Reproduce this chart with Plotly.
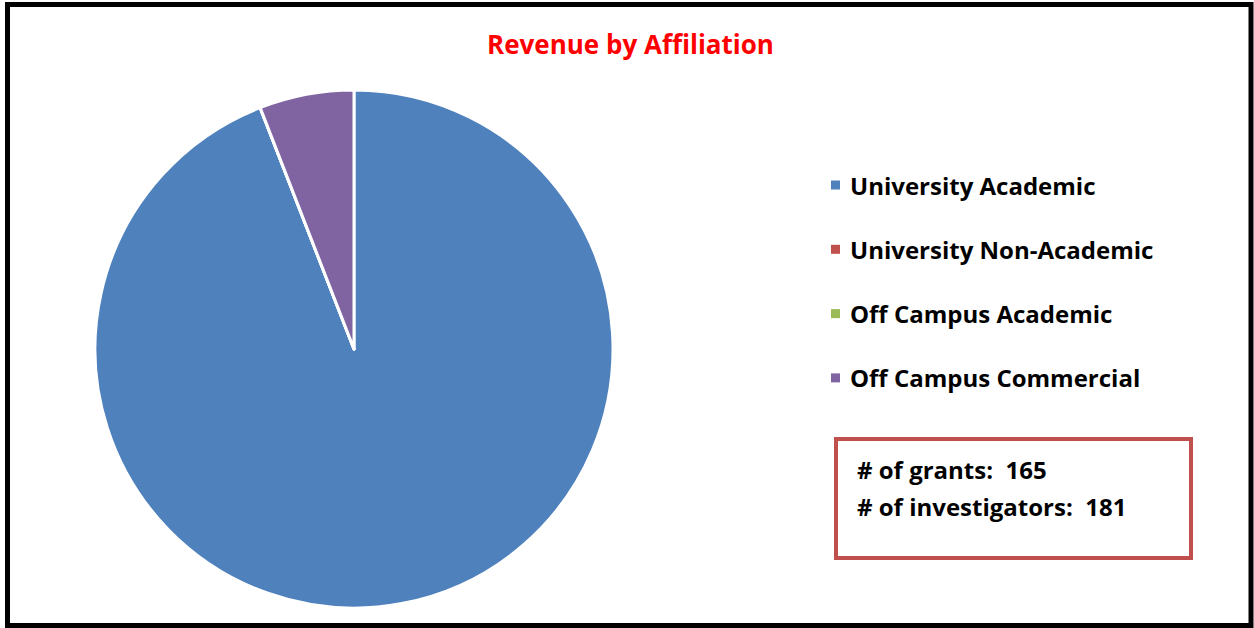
import plotly.graph_objects as go

# Revenue share by affiliation (percent of total)
labels = ["University Academic", "University Non-Academic", "Off Campus Academic", "Off Campus Commercial"]
values = [94.1, 0.0, 0.0, 5.9]
colors = ["#4F81BD", "#C0504D", "#9BBB59", "#8064A2"]

title_text = "Revenue by Affiliation"
stats_lines = ["# of grants:\u00a0\u00a0165", "# of investigators:\u00a0\u00a0181"]

W, H = 1254, 628
FONT = "Open Sans"


def px(x):
    return x / W


def py(y):
    return 1 - y / H


fig = go.Figure()
fig.add_trace(go.Pie(
    labels=labels,
    values=values,
    marker=dict(colors=colors, line=dict(color="white", width=3)),
    sort=False,
    direction="clockwise",
    rotation=0,
    textinfo="none",
    showlegend=False,
    domain=dict(x=[px(95), px(613)], y=[py(608), py(90)]),
))

shapes = []
annotations = []

# outer frame
shapes.append(dict(type="rect", xref="paper", yref="paper",
                   x0=px(7.5), x1=px(1251), y0=py(4.5), y1=py(625.5),
                   line=dict(color="black", width=5), fillcolor="rgba(0,0,0,0)"))

# title
annotations.append(dict(text="<b>" + title_text + "</b>", xref="paper", yref="paper",
                        x=px(630), y=py(44), xanchor="center", yanchor="middle",
                        showarrow=False, font=dict(family=FONT, size=26, color="#FF0000")))

# legend entries
legend_y0, legend_step = 185, 64.3
for i, (lab, col) in enumerate(zip(labels, colors)):
    yc = legend_y0 + i * legend_step
    shapes.append(dict(type="rect", xref="paper", yref="paper",
                       x0=px(831), x1=px(840), y0=py(yc + 4.5), y1=py(yc - 4.5),
                       line=dict(width=0), fillcolor=col))
    annotations.append(dict(text="<b>" + lab + "</b>", xref="paper", yref="paper",
                            x=px(848), y=py(yc), xanchor="left", yanchor="middle",
                            showarrow=False, font=dict(family=FONT, size=24, color="black")))

# statistics box
shapes.append(dict(type="rect", xref="paper", yref="paper",
                   x0=px(836), x1=px(1191), y0=py(558), y1=py(439),
                   line=dict(color="#C0504D", width=4), fillcolor="white"))
for i, line in enumerate(stats_lines):
    annotations.append(dict(text="<b>" + line + "</b>", xref="paper", yref="paper",
                            x=px(855), y=py(470 + i * 36), xanchor="left", yanchor="middle",
                            showarrow=False, font=dict(family=FONT, size=24, color="black")))

fig.update_layout(
    width=W, height=H,
    margin=dict(l=0, r=0, t=0, b=0),
    paper_bgcolor="white",
    plot_bgcolor="white",
    shapes=shapes,
    annotations=annotations,
)

fig.write_html("out.html")
